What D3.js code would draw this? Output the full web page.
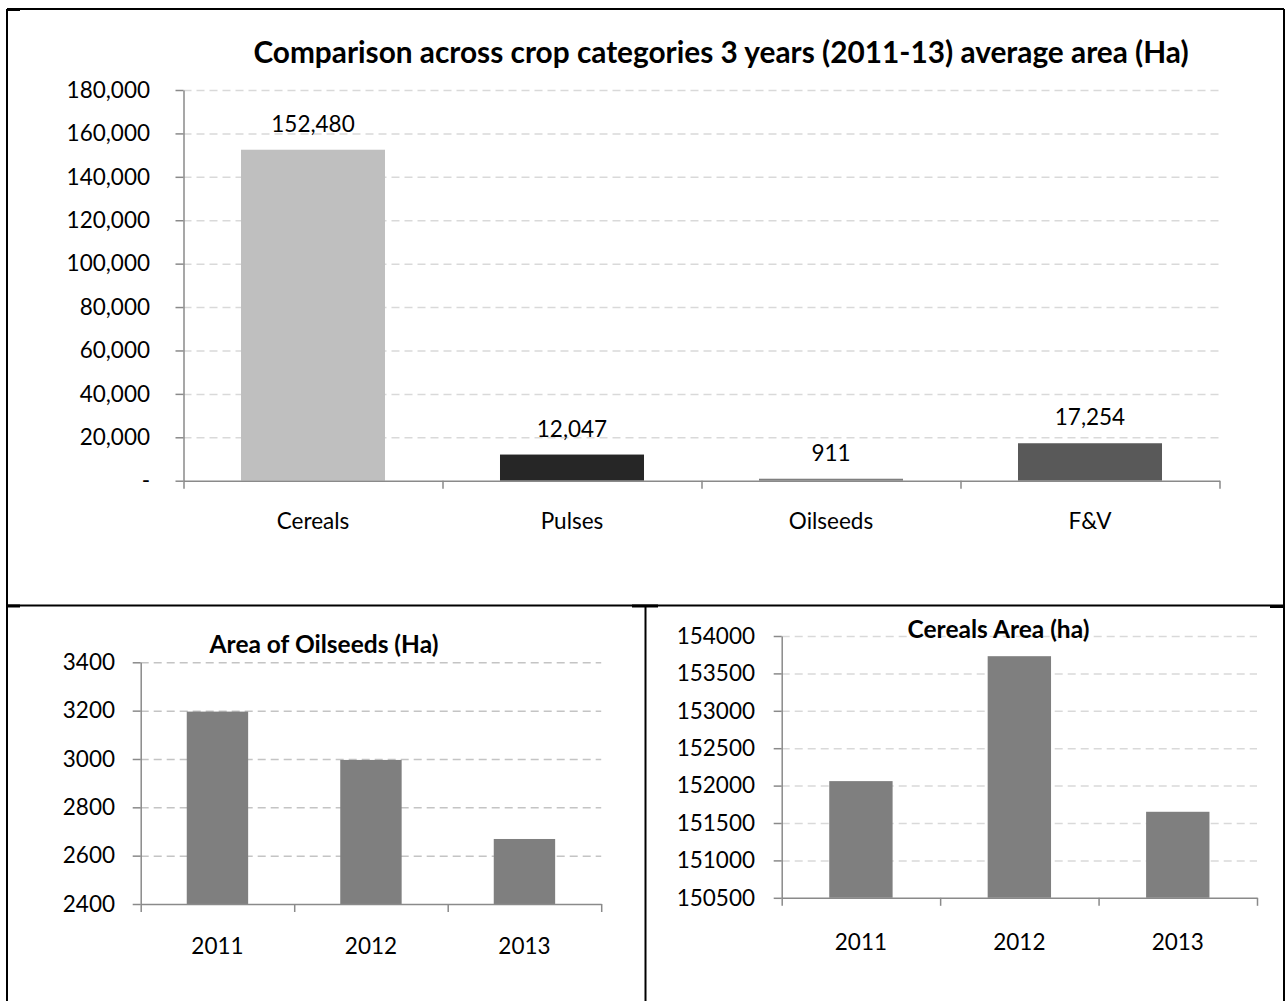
<!DOCTYPE html>
<html>
<head>
<meta charset="utf-8">
<script src="https://cdn.jsdelivr.net/npm/d3@7"></script>
<style>
  html, body { margin: 0; padding: 0; background: #fff; }
  svg { display: block; }
  text { font-family: Lato, "Open Sans", sans-serif; fill: #000; }
</style>
</head>
<body>
<svg id="chart" width="1287" height="1001"></svg>
<script>
// ---- data ----
const categories = ["Cereals", "Pulses", "Oilseeds", "F&V"];
const avgArea = [152480, 12047, 911, 17254];
const categoryTicks = [0, 20000, 40000, 60000, 80000, 100000, 120000, 140000, 160000, 180000];

const years = ["2011", "2012", "2013"];
const oilseedArea = [3196, 2996, 2669];
const oilseedTicks = [2400, 2600, 2800, 3000, 3200, 3400];

const cerealArea = [152060, 153730, 151650];
const cerealTicks = [150500, 151000, 151500, 152000, 152500, 153000, 153500, 154000];

// ---- styling ----
const categoryColors = ["#bfbfbf", "#262626", "#7f7f7f", "#595959"];
const axisColor = "#8a8a8a";
const FONT = 22.5;

const svg = d3.select("#chart");

// Generic column panel: band x scale, linear y scale, dashed gridlines,
// boundary tick marks on the category axis.
function columnPanel(o) {
  const g = svg.append("g");
  const x = d3.scaleBand().domain(o.labels).range([o.x0, o.x1])
    .paddingInner(o.pad).paddingOuter(o.pad / 2);
  const y = d3.scaleLinear().domain(o.domain).range([o.y0, o.y1]);

  // gridlines
  const grid = g.append("g").attr("transform", `translate(${o.x0},0)`)
    .call(d3.axisLeft(y).tickValues(o.ticks.slice(1)).tickSize(-(o.x1 - o.x0)).tickFormat(""));
  grid.select(".domain").remove();
  grid.selectAll(".tick line")
    .attr("stroke", o.gridColor).attr("stroke-width", 1.5).attr("stroke-dasharray", "8,5");

  // bars
  g.selectAll("rect.bar").data(o.values).join("rect")
    .attr("class", "bar")
    .attr("x", (d, i) => x(o.labels[i]))
    .attr("width", x.bandwidth())
    .attr("y", d => y(d))
    .attr("height", d => y(o.domain[0]) - y(d))
    .attr("fill", (d, i) => o.colors ? o.colors[i] : o.color);

  // value labels
  if (o.valueLabels) {
    g.selectAll("text.val").data(o.values).join("text")
      .attr("class", "val")
      .attr("x", (d, i) => x(o.labels[i]) + x.bandwidth() / 2)
      .attr("y", d => y(d) - 18)
      .attr("text-anchor", "middle")
      .style("font-size", FONT + "px")
      .text(d => d3.format(",")(d));
  }

  // y axis
  const ya = g.append("g").attr("transform", `translate(${o.x0},0)`)
    .call(d3.axisLeft(y).tickValues(o.ticks).tickSizeInner(8).tickSizeOuter(0)
      .tickPadding(o.yPad).tickFormat(o.yFormat));
  ya.select(".domain").attr("stroke", axisColor).attr("stroke-width", 1.5);
  ya.selectAll(".tick line").attr("stroke", axisColor).attr("stroke-width", 1.5);
  ya.selectAll(".tick text").style("font-size", FONT + "px").attr("font-family", null).attr("fill", "#000");

  // x axis: line with boundary ticks
  const bounds = d3.scaleLinear().domain([0, o.labels.length]).range([o.x0, o.x1]);
  const xb = g.append("g").attr("transform", `translate(0,${o.y0})`)
    .call(d3.axisBottom(bounds).tickValues(d3.range(o.labels.length + 1))
      .tickSizeInner(8).tickSizeOuter(0).tickFormat(""));
  xb.select(".domain").attr("stroke", axisColor).attr("stroke-width", 1.5);
  xb.selectAll(".tick line").attr("stroke", axisColor).attr("stroke-width", 1.5);

  // x axis: category labels
  const xl = g.append("g").attr("transform", `translate(0,${o.y0})`)
    .call(d3.axisBottom(x).tickSize(0).tickPadding(o.xPad));
  xl.select(".domain").remove();
  xl.selectAll(".tick text").style("font-size", FONT + "px").attr("font-family", null).attr("fill", "#000");

  // title
  g.append("text")
    .attr("x", o.titleX).attr("y", o.titleY)
    .attr("text-anchor", "middle")
    .style("font-size", o.titleSize + "px").style("font-weight", 700)
    .text(o.title);
}

// ---- panel frames ----
const frame = svg.append("g").attr("stroke", "#000").attr("fill", "none");
[
  [7, 9, 1284, 9], [7, 9, 7, 1010], [1284, 9, 1284, 1010],
  [7, 605.5, 1284, 605.5], [645.5, 605.5, 645.5, 1010]
].forEach(([a, b, c, d]) => frame.append("line")
  .attr("x1", a).attr("y1", b).attr("x2", c).attr("y2", d).attr("stroke-width", 2));
[
  [7, 9.5, 20, 9.5], [7, 606, 20, 606], [632, 606, 658, 606], [1270, 606.5, 1284, 606.5]
].forEach(([a, b, c, d]) => frame.append("line")
  .attr("x1", a).attr("y1", b).attr("x2", c).attr("y2", d).attr("stroke-width", 3));

// ---- top: category comparison ----
columnPanel({
  labels: categories, values: avgArea, colors: categoryColors,
  domain: [0, 180000], ticks: categoryTicks,
  x0: 183.5, x1: 1219.5, y0: 480.7, y1: 90, pad: 0.444,
  gridColor: "#d9d9d9", yPad: 25.5, xPad: 32,
  yFormat: d => d === 0 ? "-" : d3.format(",")(d),
  valueLabels: true,
  title: "Comparison across crop categories 3 years (2011-13) average area (Ha)",
  titleX: 721, titleY: 63, titleSize: 29.8
});

// ---- bottom left: oilseeds ----
columnPanel({
  labels: years, values: oilseedArea, color: "#7f7f7f",
  domain: [2400, 3400], ticks: oilseedTicks,
  x0: 140.7, x1: 601.2, y0: 904, y1: 662.3, pad: 0.6,
  gridColor: "#c4c4c4", yPad: 17.7, xPad: 34,
  yFormat: d3.format("d"),
  title: "Area of Oilseeds (Ha)",
  titleX: 324, titleY: 653, titleSize: 24.5
});

// ---- bottom right: cereals ----
columnPanel({
  labels: years, values: cerealArea, color: "#7f7f7f",
  domain: [150500, 154000], ticks: cerealTicks,
  x0: 781.7, x1: 1257, y0: 897.8, y1: 636, pad: 0.6,
  gridColor: "#d9d9d9", yPad: 18.7, xPad: 36,
  yFormat: d3.format("d"),
  title: "Cereals Area (ha)",
  titleX: 998.5, titleY: 638, titleSize: 24.5
});
</script>
</body>
</html>
